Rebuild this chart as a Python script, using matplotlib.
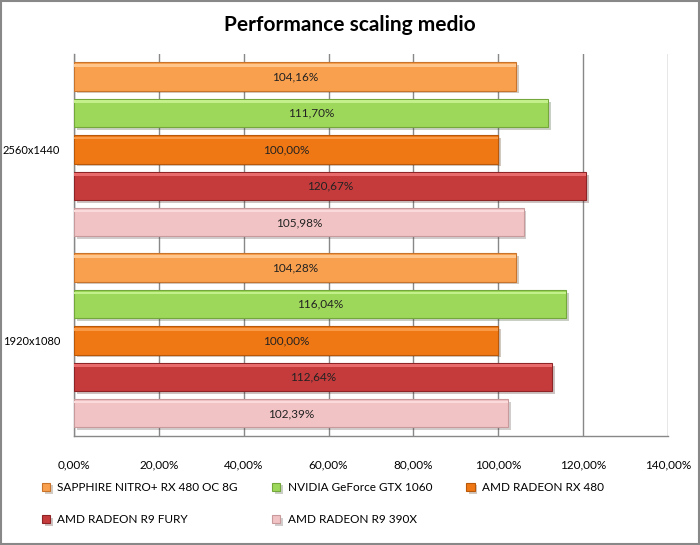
import numpy as np
import matplotlib.pyplot as plt
import matplotlib.patheffects as pe
from matplotlib.patches import Rectangle

plt.rcParams['font.family'] = ['Lato', 'DejaVu Sans']

# data
resolutions = ['2560x1440', '1920x1080']
cards = ['SAPPHIRE NITRO+ RX 480 OC 8G', 'NVIDIA GeForce GTX 1060', 'AMD RADEON RX 480',
         'AMD RADEON R9 FURY', 'AMD RADEON R9 390X']
values = {
    'SAPPHIRE NITRO+ RX 480 OC 8G': [104.16, 104.28],
    'NVIDIA GeForce GTX 1060': [111.70, 116.04],
    'AMD RADEON RX 480': [100.00, 100.00],
    'AMD RADEON R9 FURY': [120.67, 112.64],
    'AMD RADEON R9 390X': [105.98, 102.39],
}
colors = ['#F9A04E', '#9ED85A', '#F07814', '#C53B3C', '#F2C3C4']
edges = ['#C8742C', '#74A83C', '#B85808', '#8E2426', '#C89A9B']
highlights = ['#FFC58A', '#C4F08C', '#F89A48', '#E86A6A', '#FADADA']
xticks = [0, 20, 40, 60, 80, 100, 120, 140]

fig = plt.figure(figsize=(7, 5.45), dpi=100)
ax = fig.add_axes([0.106, 0.2, 0.848, 0.701])

slot = 0.191
bh = 0.147
ypos = np.arange(len(resolutions))
handles = []
for i, card in enumerate(cards):
    y = ypos + (i - 2) * slot
    b = ax.barh(y, values[card], height=bh, color=colors[i], edgecolor=edges[i],
                linewidth=0.8, zorder=3, label=card,
                path_effects=[pe.SimplePatchShadow(offset=(2, -2), alpha=0.25), pe.Normal()])
    # light strip on top of the bar for the bevel look
    ax.barh(y - bh * 0.4, values[card], height=bh * 0.09, color=highlights[i],
            linewidth=0, zorder=4)
    handles.append(b)
    for yy, v in zip(y, values[card]):
        ax.text(v / 2, yy, f'{v:.2f}%'.replace('.', ','), ha='center', va='center',
                fontsize=8.5, color='#222222', zorder=5)

ax.set_xlim(0, 140)
ax.set_ylim(1.5, -0.5)
ax.set_xticks(xticks)
ax.set_xticklabels([f'{t:.2f}%'.replace('.', ',') for t in xticks], fontsize=8.5)
ax.set_yticks(ypos)
ax.set_yticklabels(resolutions, fontsize=8)
ax.tick_params(axis='y', length=0, pad=10)
ax.tick_params(axis='x', length=0, pad=17)
ax.grid(axis='x', color='#888888', linewidth=1, zorder=0)
for s in ['top', 'right']:
    ax.spines[s].set_visible(False)
for s in ['left', 'bottom']:
    ax.spines[s].set_color('#888888')
    ax.spines[s].set_linewidth(1)

fig.text(0.5, 0.955, 'Performance scaling medio', ha='center', va='center',
         fontsize=15, fontweight='bold')

order = [0, 3, 1, 4, 2]
fig.legend([handles[k] for k in order], [cards[k] for k in order], ncol=3,
           loc='center left', bbox_to_anchor=(0.045, 0.076), frameon=False,
           fontsize=8.5, handlelength=0.7, handleheight=0.7, columnspacing=2.9,
           labelspacing=1.8, handletextpad=0.6)

fig.add_artist(Rectangle((0.001, 0.001), 0.997, 0.997, transform=fig.transFigure,
                         fill=False, edgecolor='#888888', linewidth=1.5))

fig.savefig('out.png', dpi=100)
